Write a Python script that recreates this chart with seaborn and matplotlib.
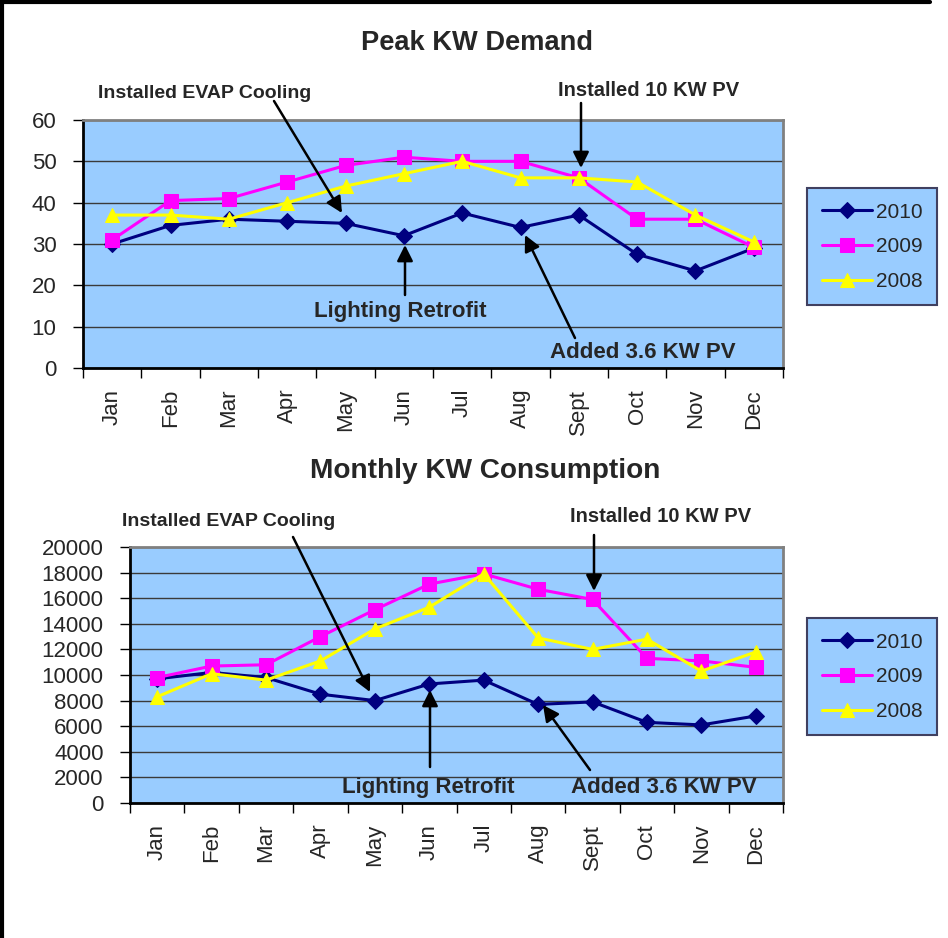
import matplotlib
matplotlib.use('Agg')
import matplotlib.pyplot as plt
from matplotlib.lines import Line2D
import numpy as np
import seaborn as sns

months = ['Jan', 'Feb', 'Mar', 'Apr', 'May', 'Jun', 'Jul', 'Aug', 'Sept', 'Oct', 'Nov', 'Dec']
years = ['2010', '2009', '2008']

# Peak KW demand
peak_2010 = [30, 34.5, 36, 35.5, 35, 32, 37.5, 34, 37, 27.5, 23.5, 29]
peak_2009 = [31, 40.5, 41, 45, 49, 51, 50, 50, 46, 36, 36, 29.2]
peak_2008 = [37, 37, 36, 40, 44, 47, 50, 46, 46, 45, 37, 30.5]

# Monthly KW consumption
cons_2010 = [9700, 10200, 9800, 8500, 8000, 9300, 9600, 7700, 7900, 6300, 6100, 6800]
cons_2009 = [9800, 10700, 10800, 13000, 15100, 17100, 17900, 16700, 15900, 11300, 11100, 10600]
cons_2008 = [8300, 10100, 9600, 11100, 13600, 15300, 17900, 12900, 12000, 12800, 10300, 11800]

colors = ['#000080', '#FF00FF', '#FFFF00']
markers = ['D', 's', '^']
msizes = [8.5, 9.5, 10]

sns.set_style('white')
plt.rcParams['font.family'] = ['Liberation Sans', 'DejaVu Sans']

W, H = 948, 938
fig = plt.figure(figsize=(W / 100, H / 100), dpi=100)


def px(x, y):
    return (x / W, 1 - y / H)


def axes_px(left, top, right, bottom):
    return fig.add_axes([left / W, 1 - bottom / H, (right - left) / W, (bottom - top) / H])


def draw_panel(ax, series, ymax, ystep):
    ax.set_facecolor('#99CCFF')
    x = np.arange(len(months))
    for yr, vals, c, m, ms in zip(years, series, colors, markers, msizes):
        sns.lineplot(x=x, y=vals, ax=ax, color=c, marker=m, markersize=ms,
                     markeredgecolor=c, markerfacecolor=c, linewidth=2.2, label=yr)
    ax.set_xlim(-0.5, len(months) - 0.5)
    ax.set_ylim(0, ymax)
    ax.set_yticks(np.arange(0, ymax + 1, ystep))
    ax.yaxis.grid(True, color='#3a3a3a', linewidth=1)
    ax.xaxis.grid(False)
    ax.set_axisbelow(True)
    ax.set_xticks(np.arange(-0.5, len(months), 1))
    ax.set_xticklabels([])
    ax.set_xticks(x, minor=True)
    ax.set_xticklabels(months, minor=True, rotation=90, fontsize=16)
    ax.tick_params(axis='x', which='major', length=7, width=1, color='black', direction='out', bottom=True)
    ax.tick_params(axis='x', which='minor', length=0, pad=15, bottom=True)
    ax.tick_params(axis='y', length=7, width=1, color='black', direction='out', left=True,
                   labelsize=16, pad=12)
    for s in ['left', 'bottom']:
        ax.spines[s].set_color('black')
        ax.spines[s].set_linewidth(2)
    for s in ['top', 'right']:
        ax.spines[s].set_color('#808080')
        ax.spines[s].set_linewidth(2)
    ax.set_xlabel('')
    ax.set_ylabel('')
    handles, labels = ax.get_legend_handles_labels()
    if ax.get_legend():
        ax.get_legend().remove()
    return handles, labels


def legend_at(ax, handles, labels, left, top):
    leg = ax.legend(handles, labels, loc='upper left', bbox_to_anchor=px(left, top),
                    bbox_transform=fig.transFigure, fontsize=15, frameon=True,
                    fancybox=False, facecolor='#99CCFF', edgecolor='#404060',
                    framealpha=1, handlelength=2.4, labelspacing=0.75,
                    borderpad=0.7, handletextpad=0.2, borderaxespad=0)
    leg.get_frame().set_linewidth(1.5)


arrow = dict(arrowstyle='-|>', mutation_scale=24, lw=1.8, color='black', shrinkA=0, shrinkB=0)


def note(ax, text, tpos, base, tip, size):
    fig.text(*px(*tpos), text, ha='center', va='center', fontsize=size, fontweight='bold')
    ax.annotate('', xy=px(*tip), xycoords='figure fraction',
                xytext=px(*base), textcoords='figure fraction', arrowprops=arrow)


# top panel
ax1 = axes_px(83, 120, 783, 368)
h, l = draw_panel(ax1, [peak_2010, peak_2009, peak_2008], 60, 10)
legend_at(ax1, h, l, 807, 188)
fig.text(*px(477, 43), 'Peak KW Demand', ha='center', va='center', fontsize=19.6, fontweight='bold')
note(ax1, 'Installed EVAP Cooling', (205, 93), (274, 101), (342, 213), 14)
note(ax1, 'Installed 10 KW PV', (649, 90), (581, 103), (581, 168), 14.5)
note(ax1, 'Lighting Retrofit', (400, 312), (405, 295), (405, 245), 16)
note(ax1, 'Added 3.6 KW PV', (643, 352), (575, 338), (525, 235), 16)

# bottom panel
ax2 = axes_px(130, 547, 783, 803)
h, l = draw_panel(ax2, [cons_2010, cons_2009, cons_2008], 20000, 2000)
legend_at(ax2, h, l, 807, 618)
fig.text(*px(485, 471), 'Monthly KW Consumption', ha='center', va='center', fontsize=20.2, fontweight='bold')
note(ax2, 'Installed EVAP Cooling', (229, 521), (293, 537), (370, 692), 14)
note(ax2, 'Installed 10 KW PV', (661, 517), (594, 535), (594, 591), 14.5)
note(ax2, 'Lighting Retrofit', (428, 787), (430, 767), (430, 690), 16)
note(ax2, 'Added 3.6 KW PV', (664, 787), (590, 770), (543, 705), 16)

# page border
fig.add_artist(Line2D([2 / W, 2 / W], [0, 1], transform=fig.transFigure, color='black', lw=3))
fig.add_artist(Line2D([0, 930 / W], [1 - 2 / H, 1 - 2 / H], transform=fig.transFigure, color='black', lw=3))

fig.savefig('out.png', dpi=100, facecolor='white')
